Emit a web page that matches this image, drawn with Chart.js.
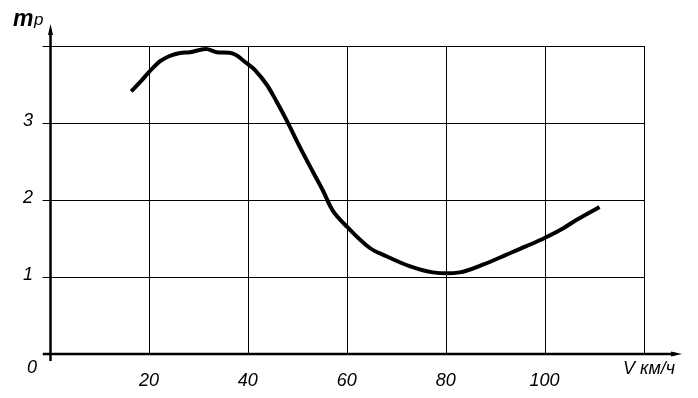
<!DOCTYPE html>
<html>
<head>
<meta charset="utf-8">
<script src="https://cdn.jsdelivr.net/npm/chart.js@4"></script>
<style>
  html, body { margin: 0; padding: 0; background: #fff; }
  #wrap { width: 698px; height: 398px; }
</style>
</head>
<body>
<div id="wrap"><canvas id="speedChart" width="698" height="398"></canvas></div>
<script>
// Speed V, km/h (x) and coefficient m_p (y)
const speedValues = [16.3, 18.1, 19.9, 22.1, 24.1, 26.2, 28.2, 31.4, 33.6, 36.9, 39.6, 41.3, 43.7, 45.7, 47.7, 50.4, 53.1, 55.1, 57.1, 60.0, 64.5, 67.9, 72.6, 77.3, 82.7, 87.4, 92.2, 96.2, 100.0, 103.6, 106.3, 111.0];
const mpValues = [3.41, 3.53, 3.66, 3.80, 3.87, 3.91, 3.92, 3.96, 3.92, 3.90, 3.78, 3.69, 3.50, 3.28, 3.04, 2.69, 2.36, 2.12, 1.86, 1.65, 1.38, 1.27, 1.14, 1.06, 1.06, 1.16, 1.29, 1.40, 1.51, 1.63, 1.74, 1.91];

const xTickValues = [20, 40, 60, 80, 100];
const xTickLabels = ['20', '40', '60', '80', '100'];
const yTickValues = [1, 2, 3];
const yTickLabels = ['1', '2', '3'];
const originLabel = '0';
const xAxisTitle = 'V км/ч';
const yAxisTitle = 'm';
const yAxisSub = 'p';

const points = speedValues.map((v, i) => ({ x: v, y: mpValues[i] }));

const labelFont = 'italic 18px "Liberation Sans", Arial, sans-serif';

// axes with arrows + all text labels
const axesPlugin = {
    id: 'axesPlugin',
    afterDatasetsDraw(chart) {
        const ctx = chart.ctx;
        const xs = chart.scales.x;
        const ys = chart.scales.y;
        const x0 = xs.getPixelForValue(0);
        const y0 = ys.getPixelForValue(0);

        ctx.save();
        ctx.strokeStyle = '#000';
        ctx.fillStyle = '#000';
        ctx.lineWidth = 2.5;

        // y axis
        ctx.beginPath();
        ctx.moveTo(x0, y0 + 7);
        ctx.lineTo(x0, 30);
        ctx.stroke();
        ctx.beginPath();
        ctx.moveTo(x0, 24);
        ctx.lineTo(x0 - 2.5, 35);
        ctx.lineTo(x0 + 2.5, 35);
        ctx.closePath();
        ctx.fill();

        // x axis
        ctx.beginPath();
        ctx.moveTo(43, y0);
        ctx.lineTo(676, y0);
        ctx.stroke();
        ctx.beginPath();
        ctx.moveTo(682, y0);
        ctx.lineTo(671, y0 - 2.5);
        ctx.lineTo(671, y0 + 2.5);
        ctx.closePath();
        ctx.fill();

        ctx.font = labelFont;
        ctx.textBaseline = 'middle';

        ctx.textAlign = 'center';
        xTickValues.forEach((v, i) => {
            ctx.fillText(xTickLabels[i], xs.getPixelForValue(v) - 0.5, y0 + 27);
        });

        ctx.textAlign = 'right';
        yTickValues.forEach((v, i) => {
            ctx.fillText(yTickLabels[i], 33, ys.getPixelForValue(v) - 2);
        });
        ctx.fillText(originLabel, 37, y0 + 14);

        ctx.textAlign = 'left';
        ctx.fillText(xAxisTitle, 623, y0 + 15);

        ctx.font = 'bold italic 23px "Liberation Sans", Arial, sans-serif';
        ctx.textBaseline = 'alphabetic';
        ctx.fillText(yAxisTitle, 13, 26);
        ctx.font = 'italic 17px "Liberation Sans", Arial, sans-serif';
        ctx.fillText(yAxisSub, 34, 25);
        ctx.restore();
    }
};

const ctx = document.getElementById('speedChart').getContext('2d');

new Chart(ctx, {
    type: 'line',
    data: {
        datasets: [{
            data: points,
            borderColor: '#000',
            borderWidth: 4,
            pointRadius: 0,
            tension: 0.35,
            fill: false
        }]
    },
    options: {
        responsive: false,
        animation: false,
        layout: { padding: { left: 42.5, top: 46, right: 54, bottom: 44 } },
        plugins: { legend: { display: false }, tooltip: { enabled: false } },
        scales: {
            x: {
                type: 'linear',
                min: 0,
                max: 120,
                ticks: { stepSize: 20, display: false },
                grid: { color: '#000', lineWidth: 1, drawTicks: false },
                border: { display: false },
                afterFit: (scale) => { scale.height = 0; }
            },
            y: {
                type: 'linear',
                min: 0,
                max: 4,
                ticks: { stepSize: 1, display: false },
                grid: { color: '#000', lineWidth: 1, drawTicks: true, tickLength: 8 },
                border: { display: false },
                afterFit: (scale) => { scale.width = 8; }
            }
        }
    },
    plugins: [axesPlugin]
});
</script>
</body>
</html>
